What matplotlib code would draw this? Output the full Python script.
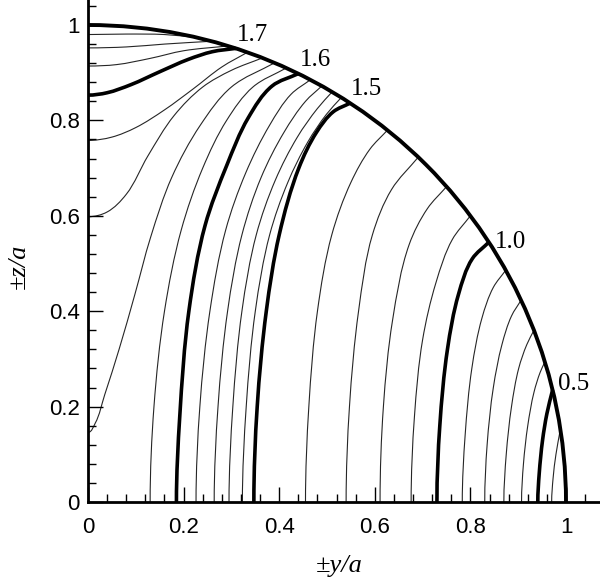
import numpy as np
import matplotlib
matplotlib.use("Agg")
import matplotlib.pyplot as plt
from matplotlib.path import Path
from matplotlib.patches import PathPatch, Arc

# contour lines, (y/a, z/a) points
# lines that start on the z axis (y = 0)
left_0980 = [(0, 0.980), (0.08, 0.981), (0.16, 0.980), (0.225, 0.974)]
left_0952 = [(0, 0.952), (0.08, 0.954), (0.16, 0.960), (0.259, 0.966)]
left_0914 = [(0, 0.914), (0.06, 0.917), (0.13, 0.930), (0.20, 0.946), (0.292, 0.956)]
left_0758 = [(0, 0.758), (0.05, 0.765), (0.10, 0.785), (0.16, 0.822), (0.22, 0.866), (0.28, 0.912), (0.334, 0.943)]
left_0598 = [(0, 0.598), (0.04, 0.608), (0.08, 0.645), (0.125, 0.725), (0.18, 0.81), (0.24, 0.87),
             (0.30, 0.905), (0.365, 0.931)]
left_0146 = [(0, 0.146), (0.015, 0.165), (0.035, 0.225), (0.065, 0.32), (0.098, 0.435), (0.131, 0.555),
             (0.175, 0.68), (0.235, 0.79), (0.30, 0.87), (0.391, 0.921)]

# lines that start on the y axis (z = 0)
bot_0130 = [(0.130, 0), (0.138, 0.2), (0.160, 0.40), (0.195, 0.57), (0.24, 0.70), (0.29, 0.80),
            (0.345, 0.87), (0.415, 0.910)]
bot_0226 = [(0.226, 0), (0.234, 0.2), (0.255, 0.40), (0.288, 0.57), (0.33, 0.69), (0.38, 0.79),
            (0.425, 0.855), (0.465, 0.885)]
bot_0264 = [(0.264, 0), (0.272, 0.2), (0.292, 0.40), (0.322, 0.56), (0.362, 0.68), (0.41, 0.775),
            (0.455, 0.840), (0.489, 0.872)]
bot_0295 = [(0.295, 0), (0.303, 0.2), (0.322, 0.40), (0.352, 0.56), (0.392, 0.675), (0.438, 0.765),
            (0.480, 0.825), (0.511, 0.860)]
bot_0323 = [(0.323, 0), (0.331, 0.2), (0.350, 0.40), (0.380, 0.56), (0.418, 0.67), (0.460, 0.755),
            (0.499, 0.813), (0.530, 0.848)]
bot_0455 = [(0.455, 0), (0.462, 0.2), (0.480, 0.40), (0.510, 0.56), (0.55, 0.67), (0.59, 0.74), (0.626, 0.779)]
bot_0540 = [(0.540, 0), (0.547, 0.2), (0.566, 0.40), (0.595, 0.56), (0.635, 0.655), (0.691, 0.723)]
bot_0611 = [(0.611, 0), (0.618, 0.2), (0.637, 0.38), (0.672, 0.54), (0.710, 0.615), (0.750, 0.661)]
bot_0676 = [(0.676, 0), (0.683, 0.18), (0.700, 0.34), (0.728, 0.46), (0.762, 0.55), (0.800, 0.600)]
bot_0783 = [(0.783, 0), (0.789, 0.14), (0.803, 0.28), (0.824, 0.385), (0.848, 0.450), (0.874, 0.486)]
bot_0830 = [(0.830, 0), (0.835, 0.12), (0.848, 0.24), (0.866, 0.33), (0.886, 0.39), (0.906, 0.423)]
bot_0870 = [(0.870, 0), (0.875, 0.10), (0.886, 0.20), (0.901, 0.28), (0.918, 0.33), (0.933, 0.360)]
bot_0907 = [(0.907, 0), (0.911, 0.08), (0.920, 0.16), (0.933, 0.23), (0.946, 0.272), (0.956, 0.294)]
bot_0970 = [(0.970, 0), (0.973, 0.05), (0.979, 0.10), (0.988, 0.151)]

# labelled (thick) contours
line_17 = [(0, 0.853), (0.04, 0.858), (0.09, 0.875), (0.15, 0.902), (0.21, 0.928), (0.26, 0.944), (0.309, 0.951)]
line_16 = [(0.185, 0), (0.192, 0.18), (0.211, 0.40), (0.245, 0.58), (0.29, 0.705), (0.335, 0.805),
           (0.385, 0.872), (0.440, 0.898)]
line_15 = [(0.347, 0), (0.354, 0.2), (0.373, 0.40), (0.400, 0.56), (0.441, 0.70), (0.478, 0.775),
           (0.513, 0.818), (0.548, 0.836)]
line_10 = [(0.730, 0), (0.736, 0.16), (0.752, 0.32), (0.775, 0.435), (0.804, 0.51), (0.839, 0.545)]
line_05 = [(0.941, 0), (0.944, 0.06), (0.951, 0.13), (0.960, 0.185), (0.972, 0.235)]

left_lines = [left_0980, left_0952, left_0914, left_0758, left_0598, left_0146]
bottom_lines = [bot_0130, bot_0226, bot_0264, bot_0295, bot_0323, bot_0455, bot_0540,
                bot_0611, bot_0676, bot_0783, bot_0830, bot_0870, bot_0907, bot_0970]
thick_lines = [line_17, line_16, line_15, line_10, line_05]
thick_labels = ["1.7", "1.6", "1.5", "1.0", "0.5"]
label_offsets = [(1, 2), (1, 2), (1, 2), (4, 0), (4, 4)]
label_va = ["bottom", "bottom", "bottom", "center", "center"]


def smooth_path(pts):
    # smooth curve through the read points (cubic Bezier segments);
    # a contour meets a symmetry axis at a right angle
    p = np.asarray(pts, dtype=float)
    n = len(p)
    tang = np.zeros_like(p)
    tang[0] = (1.0, 0.0) if p[0, 0] == 0 else (0.0, 1.0)
    for i in range(1, n):
        d = p[i] - p[i - 1]
        d = d / np.hypot(*d)
        if i < n - 1:
            e = p[i + 1] - p[i]
            d = d + e / np.hypot(*e)
        tang[i] = d / np.hypot(*d)
    verts = [p[0]]
    codes = [Path.MOVETO]
    for i in range(n - 1):
        L = np.hypot(*(p[i + 1] - p[i]))
        verts += [p[i] + tang[i] * L / 3, p[i + 1] - tang[i + 1] * L / 3, p[i + 1]]
        codes += [Path.CURVE4] * 3
    return Path(verts, codes)


fig = plt.figure(figsize=(6, 5.8), dpi=100)
ax = fig.add_axes([88 / 600, 78 / 580, 1 - 88 / 600, 1 - 78 / 580])

for pts in left_lines + bottom_lines:
    ax.add_patch(PathPatch(smooth_path(pts), facecolor="none", edgecolor="0.15", lw=0.8))
for pts in thick_lines:
    ax.add_patch(PathPatch(smooth_path(pts), facecolor="none", edgecolor="black", lw=2.6))

ax.add_patch(Arc((0, 0), 2, 2, theta1=0, theta2=90, color="black", lw=2.8, zorder=3))

for pts, lab, off, va in zip(thick_lines, thick_labels, label_offsets, label_va):
    ax.annotate(lab, xy=pts[-1], xytext=off, textcoords="offset points",
                ha="left", va=va, fontsize=18, family="Liberation Serif")

ax.set_xlim(0, 512 / 478)
ax.set_ylim(0, 502 / 477)

ax.spines["top"].set_visible(False)
ax.spines["right"].set_visible(False)
ax.spines["left"].set_linewidth(2)
ax.spines["bottom"].set_linewidth(2)

ticks = [0, 0.2, 0.4, 0.6, 0.8, 1.0]
tick_text = ["0", "0.2", "0.4", "0.6", "0.8", "1"]
ax.set_xticks(ticks)
ax.set_xticklabels(tick_text)
ax.set_yticks(ticks)
ax.set_yticklabels(tick_text)
ax.set_xticks(np.arange(0, 1.07, 0.04), minor=True)
ax.set_yticks(np.arange(0, 1.05, 0.04), minor=True)
ax.tick_params(which="major", direction="in", length=11, width=1, labelsize=16, pad=11)
ax.tick_params(which="minor", direction="in", length=5.5, width=1)
ax.tick_params(axis="y", which="major", pad=6)
for t in ax.get_xticklabels() + ax.get_yticklabels():
    t.set_family("Liberation Sans")

ax.set_xlabel("\u00b1y/a", fontsize=19, family="Liberation Serif", style="italic")
ax.set_ylabel("\u00b1z/a", fontsize=19, family="Liberation Serif", style="italic")
ax.xaxis.set_label_coords(0.49, -0.105)
ax.yaxis.set_label_coords(-0.113, 0.47)

fig.savefig("out.png", dpi=100)
